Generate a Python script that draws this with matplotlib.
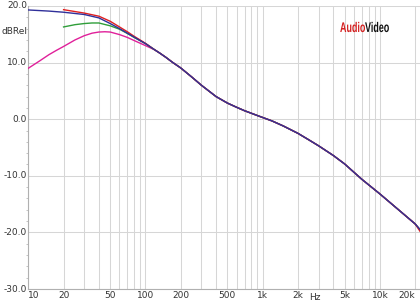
import matplotlib
matplotlib.use("Agg")
import matplotlib.pyplot as plt
from matplotlib.font_manager import FontProperties
from matplotlib.patches import PathPatch
from matplotlib.textpath import TextPath
from matplotlib.ticker import FixedLocator, NullFormatter
from matplotlib.transforms import Affine2D
import numpy as np

# shared response above ~100 Hz (all four curves overlap here)
hf_freq = [120, 133, 150, 170, 200, 250, 300, 400, 500, 600, 700, 800, 900,
           1000, 1200, 1500, 2000, 2500, 3000, 4000, 5000, 7000, 10000,
           15000, 20000, 22000]
hf_db = [12.25, 11.65, 10.9, 10.05, 9.05, 7.4, 6.0, 4.0, 2.85, 2.1, 1.5, 1.05,
         0.65, 0.3, -0.3, -1.2, -2.5, -3.7, -4.7, -6.4, -7.9, -10.6, -13.2,
         -16.3, -18.5, -19.5]

# low-frequency part of each curve
blue_freq = [10, 15, 20, 30, 40, 50, 60, 70, 80, 100]
blue_db = [19.3, 19.1, 18.9, 18.5, 17.9, 16.9, 16.0, 15.2, 14.5, 13.35]

red_freq = [20, 30, 40, 50, 60, 70, 80, 100]
red_db = [19.35, 18.75, 18.2, 17.3, 16.3, 15.45, 14.65, 13.4]

green_freq = [20, 25, 30, 35, 40, 50, 60, 70, 80, 100]
green_db = [16.3, 16.7, 16.9, 17.0, 17.0, 16.5, 15.9, 15.15, 14.45, 13.35]

magenta_freq = [10, 12.5, 15, 17.5, 20, 25, 30, 35, 40, 45, 50, 60, 70, 80, 100]
magenta_db = [9.0, 10.3, 11.4, 12.2, 12.85, 14.0, 14.75, 15.2, 15.4, 15.45,
              15.4, 14.95, 14.45, 13.9, 13.0]

red_tail_db = [-19.8]  # red sits slightly lower at the very top end

x_ticks = [10, 20, 50, 100, 200, 500, 1000, 2000, 5000, 10000, 20000]
x_labels = ["10", "20", "50", "100", "200", "500", "1k", "2k", "5k", "10k", "20k"]
y_ticks = [20, 10, 0, -10, -20, -30]
y_labels = ["20.0", "10.0", "0.0", "-10.0", "-20.0", "-30.0"]

W, H = 420, 301
fig = plt.figure(figsize=(W / 100, H / 100), dpi=100)
ax = fig.add_axes([28.3 / W, (H - 289) / H, (W - 28.3) / W, 283 / H])

grid_freqs = [m * 10 ** e for e in range(1, 5) for m in range(1, 10)]
grid_freqs = [f for f in grid_freqs if f <= 20000]
for f in grid_freqs:
    ax.axvline(f, color="#d6d6d6", lw=0.75, zorder=1)
for v in y_ticks:
    ax.axhline(v, color="#d6d6d6", lw=0.75, zorder=1)


def series(freq, db, tail=None):
    f = list(freq) + hf_freq
    d = list(db) + hf_db
    if tail is not None:
        d[-1] = tail[0]
    return f, d


f, d = series(magenta_freq, magenta_db)
ax.plot(f, d, color="#e0209a", lw=1.0, zorder=3)
f, d = series(green_freq, green_db)
ax.plot(f, d, color="#2f9e3a", lw=1.0, zorder=3)
f, d = series(red_freq, red_db, red_tail_db)
ax.plot(f, d, color="#e02020", lw=1.0, zorder=4)
f, d = series(blue_freq, blue_db)
ax.plot(f, d, color="#30309a", lw=1.0, zorder=5)

ax.set_xscale("log")
ax.set_xlim(10, 22000)
ax.set_ylim(-30, 20)

ax.xaxis.set_major_locator(FixedLocator(x_ticks))
ax.xaxis.set_minor_locator(FixedLocator([]))
ax.xaxis.set_minor_formatter(NullFormatter())
ax.set_xticks(x_ticks)
ax.set_xticklabels(x_labels)
ax.set_yticks(y_ticks)
ax.set_yticklabels(y_labels)
ax.set_yticks(np.arange(-30, 21, 2), minor=True)

ax.tick_params(axis="x", length=0, pad=1.5, labelsize=6.5, labelcolor="#333333")
ax.tick_params(axis="y", which="major", length=0, pad=1, labelsize=6.5,
               labelcolor="#333333")
ax.tick_params(axis="y", which="minor", length=1.5, width=0.6, color="#bbbbbb")
for lab in ax.get_yticklabels():
    lab.set_va("center")
ax.get_xticklabels()[0].set_ha("left")
ax.get_xticklabels()[-1].set_ha("right")

for s in ["top", "right"]:
    ax.spines[s].set_visible(False)
for s in ["left", "bottom"]:
    ax.spines[s].set_color("#b0b0b0")
    ax.spines[s].set_linewidth(0.8)

fig.text(1 / W, 1 - 32 / H, "dBRel", fontsize=6.5, color="#333333",
         ha="left", va="center")
fig.text(315 / W, 1 - 298 / H, "Hz", fontsize=6.5, color="#333333",
         ha="center", va="center")

# condensed logo: text paths squeezed horizontally, placed in pixels
logo_prop = FontProperties(family="Liberation Sans", weight="bold")
x0, base = 340, H - 32
for word, colour in [("Audio", "#d42020"), ("Video", "#111111")]:
    tp = TextPath((0, 0), word, size=14, prop=logo_prop)
    patch = PathPatch(tp, facecolor=colour, edgecolor="none",
                      transform=Affine2D().scale(0.64, 1.0).translate(x0, base))
    fig.add_artist(patch)
    x0 += tp.get_extents().x1 * 0.64

fig.savefig("out.png", dpi=100)
